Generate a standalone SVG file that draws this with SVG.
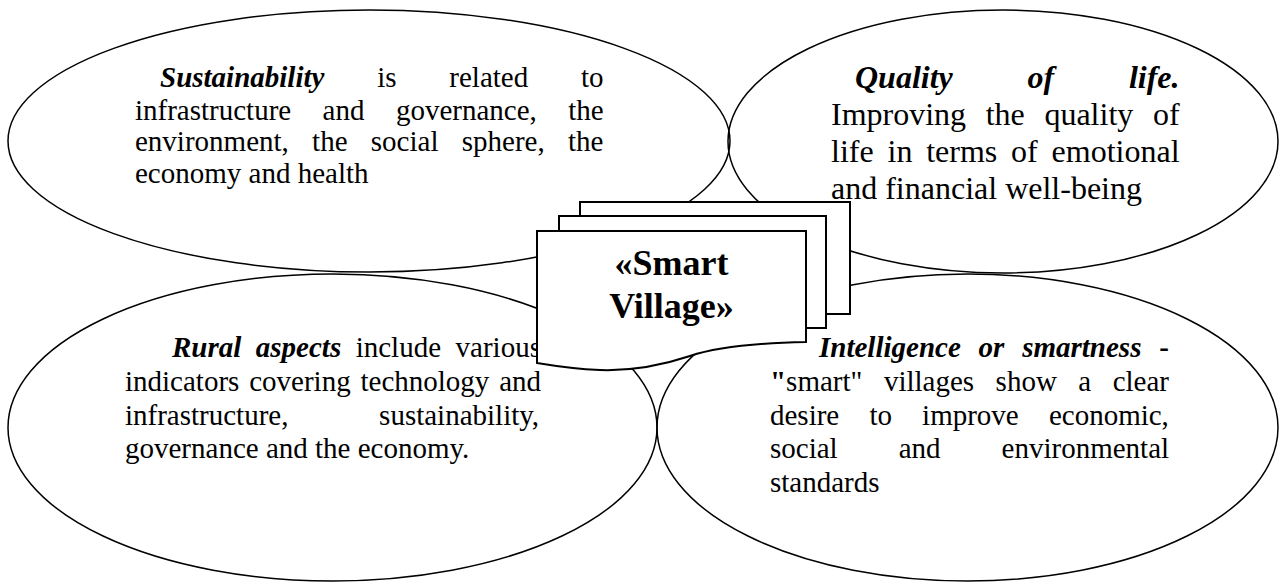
<svg xmlns="http://www.w3.org/2000/svg" width="1279" height="582" viewBox="0 0 1279 582">
<style>
.ell{fill:none;stroke:#000;stroke-width:1.5}
.doc{fill:#fff;stroke:#000;stroke-width:2}
text{font-family:"Liberation Serif","Times New Roman",serif;fill:#000}
.s29{font-size:29px}
.s32{font-size:32px}
.bi{font-weight:bold;font-style:italic}
.b{font-weight:bold}
.title{font-size:36px;font-weight:bold;text-anchor:middle}
</style>
<rect width="1279" height="582" fill="#fff"/>
<g id="connectors"></g>
<g id="node-sustainability">
<ellipse class="ell" cx="369" cy="141" rx="361" ry="131"/>
<text class="s29"><tspan x="160" y="87" class="bi">Sustainability</tspan><tspan x="377.2" y="87">is</tspan><tspan x="449.3" y="87">related</tspan><tspan x="581" y="87">to</tspan><tspan x="135" y="119.5">infrastructure</tspan><tspan x="322.6" y="119.5">and</tspan><tspan x="395.9" y="119.5">governance,</tspan><tspan x="568.2" y="119.5">the</tspan><tspan x="135" y="151">environment,</tspan><tspan x="312.1" y="151">the</tspan><tspan x="370.8" y="151">social</tspan><tspan x="461.8" y="151">sphere,</tspan><tspan x="568" y="151">the</tspan><tspan x="135" y="183">economy and health</tspan></text>
</g>
<g id="node-quality">
<ellipse class="ell" cx="1003" cy="141.5" rx="275" ry="131.5"/>
<text class="s32"><tspan x="855" y="88.3" class="bi">Quality</tspan><tspan x="1027.5" y="88.3" class="bi">of</tspan><tspan x="1128.9" y="88.3" class="bi">life.</tspan><tspan x="831" y="125">Improving</tspan><tspan x="985.7" y="125">the</tspan><tspan x="1044.4" y="125">quality</tspan><tspan x="1152.9" y="125">of</tspan><tspan x="831" y="162">life</tspan><tspan x="887.5" y="162">in</tspan><tspan x="926.2" y="162">terms</tspan><tspan x="1011.1" y="162">of</tspan><tspan x="1051.6" y="162">emotional</tspan><tspan x="831" y="199">and financial well-being</tspan></text>
</g>
<g id="node-rural">
<ellipse class="ell" cx="332.5" cy="427.5" rx="324.5" ry="153.5"/>
<text class="s29"><tspan x="172" y="357.3" class="bi">Rural</tspan><tspan x="255.8" y="357.3" class="bi">aspects</tspan><tspan x="355.7" y="357.3">include</tspan><tspan x="455.6" y="357.3">various</tspan><tspan x="125" y="390.7">indicators</tspan><tspan x="249.2" y="390.7">covering</tspan><tspan x="360.5" y="390.7">technology</tspan><tspan x="499.2" y="390.7">and</tspan><tspan x="125" y="425">infrastructure,</tspan><tspan x="379.1" y="425">sustainability,</tspan><tspan x="125" y="458.3">governance and the economy.</tspan></text>
</g>
<g id="node-intelligence">
<ellipse class="ell" cx="967.5" cy="427.5" rx="310.5" ry="153.5"/>
<text class="s29"><tspan x="819" y="357.3" class="bi">Intelligence</tspan><tspan x="978.6" y="357.3" class="bi">or</tspan><tspan x="1022.2" y="357.3" class="bi">smartness</tspan><tspan x="1159.2" y="357.3" class="b">-</tspan><tspan x="770" y="390.7" class="b">"</tspan><tspan>smart"</tspan><tspan x="883.9" y="390.7">villages</tspan><tspan x="995.6" y="390.7">show</tspan><tspan x="1078.3" y="390.7">a</tspan><tspan x="1112.7" y="390.7">clear</tspan><tspan x="770" y="425">desire</tspan><tspan x="869.4" y="425">to</tspan><tspan x="922.1" y="425">improve</tspan><tspan x="1048.9" y="425">economic,</tspan><tspan x="770" y="458.3">social</tspan><tspan x="898.7" y="458.3">and</tspan><tspan x="1001.6" y="458.3">environmental</tspan><tspan x="770" y="491.7">standards</tspan></text>
</g>
<g id="node-smart-village">
<rect class="doc" x="580" y="202" width="270" height="112"/>
<rect class="doc" x="559" y="216" width="267" height="112"/>
<path class="doc" d="M537,231 H806 V342 C760,343 720,346 690,356 C660,366 630,371 600,370 C575,369 555,366 537,363 Z"/>
<text class="title" x="671.5" y="275">«Smart</text>
<text class="title" x="671.5" y="318.3">Village»</text>
</g>
</svg>
